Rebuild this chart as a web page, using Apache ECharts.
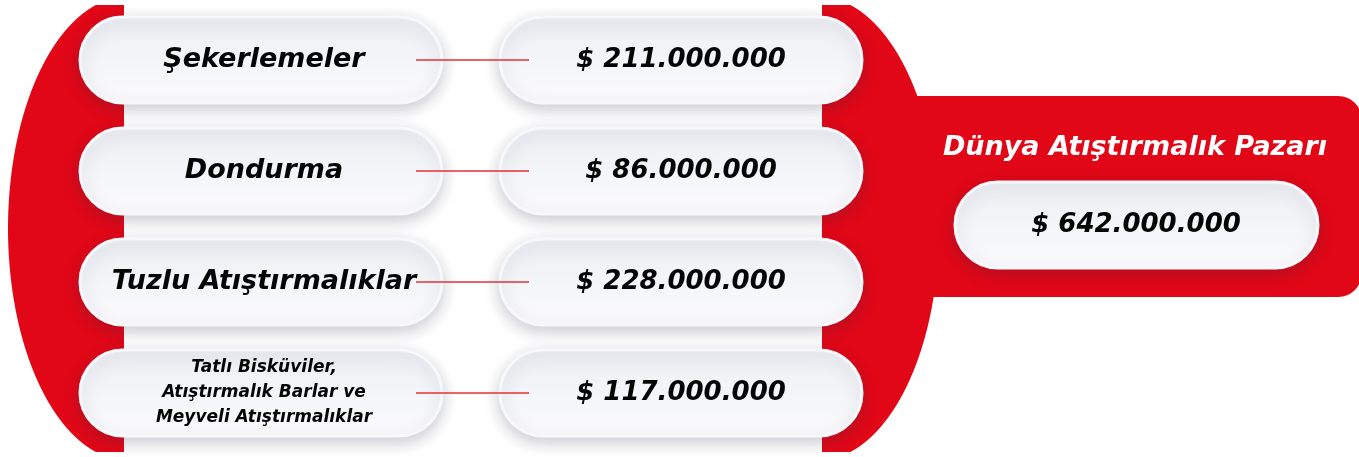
<!DOCTYPE html>
<html>
<head>
  <meta charset="utf-8">
  <script src="https://cdn.jsdelivr.net/npm/echarts@6/dist/echarts.min.js"></script>
  <style>
    html, body { margin: 0; padding: 0; background: #fff; }
    #id_chart { width: 1359px; height: 457px; }
  </style>
</head>
<body>
  <div id="id_chart"></div>

  <script type="text/javascript">
    // veriler
    var categories = ['Şekerlemeler', 'Dondurma', 'Tuzlu Atıştırmalıklar',
      'Tatlı Bisküviler,\nAtıştırmalık Barlar ve\nMeyveli Atıştırmalıklar'];
    var values = [211000000, 86000000, 228000000, 117000000];
    var totalTitle = 'Dünya Atıştırmalık Pazarı';

    var RED = '#e10717';
    var FONT = '"DejaVu Sans"';

    function fmt(v) {
      return '$ ' + String(v).replace(/\B(?=(\d{3})+(?!\d))/g, '.');
    }

    // elips yayı ile kesilmiş kırmızı şerit (dir: -1 sola, 1 sağa şişkin)
    function arcBand(edgeX, cx, rx, dir) {
      var cy = 228.5, ry = 232, pts = [];
      for (var y = 5; y <= 452; y += 3) {
        var t = (y - cy) / ry;
        pts.push([cx + dir * rx * Math.sqrt(Math.max(0, 1 - t * t)), y]);
      }
      pts.push([edgeX, 452]);
      pts.push([edgeX, 5]);
      return { type: 'polygon', shape: { points: pts }, style: { fill: RED } };
    }

    function pill(x0, x1, cy, h) {
      return {
        type: 'rect',
        shape: { x: x0, y: cy - h / 2, width: x1 - x0, height: h, r: h / 2 },
        style: {
          fill: {
            type: 'linear', x: 0, y: 0, x2: 0, y2: 1,
            colorStops: [
              { offset: 0, color: '#edeff4' },
              { offset: 1, color: '#fbfbfd' }
            ]
          },
          stroke: '#f7f8fb',
          lineWidth: 3,
          shadowBlur: 16,
          shadowOffsetY: 5,
          shadowColor: 'rgba(50,40,70,0.24)'
        }
      };
    }

    function label(txt, x, y, size, color, lh) {
      return {
        type: 'text',
        style: {
          text: txt, x: x, y: y,
          align: 'center', verticalAlign: 'middle',
          font: 'italic bold ' + size + 'px ' + FONT,
          lineHeight: lh || Math.round(size * 1.5),
          fill: color || '#050505'
        }
      };
    }

    var total = 0;
    for (var i in values) total += values[i];

    var myChart = echarts.init(document.getElementById('id_chart'));
    var option = {
      animation: false,
      grid: { left: 0, right: 0, top: 4.5, bottom: 8.5 },
      xAxis: { type: 'value', min: 0, max: 1359, show: false },
      yAxis: { type: 'category', data: categories, inverse: true, show: false },
      series: [
        // kırmızı arka plan ve toplam paneli
        {
          type: 'custom',
          coordinateSystem: 'none',
          z: 1,
          data: [total],
          renderItem: function (params, api) {
            return {
              type: 'group',
              children: [
                arcBand(124, 128, 120, -1),
                arcBand(822, 818, 121, 1),
                {
                  type: 'rect',
                  shape: { x: 880, y: 96, width: 482, height: 201, r: [0, 24, 24, 0] },
                  style: { fill: RED }
                },
                label(totalTitle, 1135, 148, 27, '#ffffff'),
                pill(955, 1318, 225, 86),
                label(fmt(api.value(0)), 1136, 225, 26)
              ]
            };
          }
        },
        {
          type: 'custom',
          z: 3,
          encode: { y: 0 },
          data: categories.map(function (c, i) { return [i, c]; }),
          renderItem: function (params, api) {
            var cy = api.coord([0, api.value(0)])[1];
            var txt = categories[params.dataIndex];
            var multi = txt.indexOf('\n') >= 0;
            return {
              type: 'group',
              children: [
                pill(80, 442, cy, 86),
                label(txt, 264, cy, multi ? 17 : 27, null, multi ? 25 : null)
              ]
            };
          }
        },
        {
          type: 'custom',
          z: 4,
          encode: { y: 0 },
          data: values.map(function (v, i) { return [i, v]; }),
          renderItem: function (params, api) {
            var cy = api.coord([0, api.value(0)])[1];
            return {
              type: 'group',
              children: [
                pill(500, 862, cy, 86),
                label(fmt(api.value(1)), 681, cy, 26),
                {
                  type: 'line',
                  shape: { x1: 416, y1: cy, x2: 529, y2: cy },
                  style: { stroke: '#e5303b', lineWidth: 1.5 }
                }
              ]
            };
          }
        }
      ]
    };
    myChart.setOption(option);
  </script>
</body>
</html>
